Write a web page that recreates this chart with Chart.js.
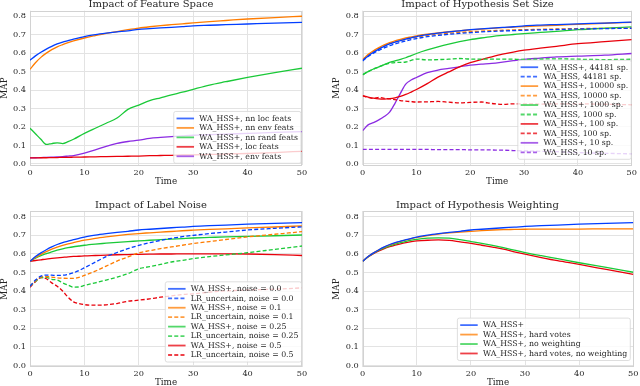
<!DOCTYPE html>
<html><head><meta charset="utf-8">
<script src="https://cdn.jsdelivr.net/npm/chart.js@4.4.0/dist/chart.umd.min.js"></script>
<style>
html,body{margin:0;padding:0;background:#fff;width:640px;height:386px;overflow:hidden}
canvas{position:absolute}
</style></head><body>
<canvas id="c1" width="320" height="193" style="left:0;top:0"></canvas>
<canvas id="c2" width="320" height="193" style="left:320px;top:0"></canvas>
<canvas id="c3" width="320" height="193" style="left:0;top:193px"></canvas>
<canvas id="c4" width="320" height="193" style="left:320px;top:193px"></canvas>
<script>
// ---------- tick labels ----------
const xTicks = [0, 10, 20, 30, 40, 50];
const yTicks = [0.0, 0.1, 0.2, 0.3, 0.4, 0.5, 0.6, 0.7, 0.8];

// ---------- Panel 1: Impact of Feature Space ----------
const time1 = [0,1,2,3,4,5,6,7,8,10,12,14,16,18,20,22,24,26,28,30,33,36,40,45,50];
const fs_nnLoc  = [0.562,0.585,0.605,0.622,0.637,0.650,0.660,0.668,0.676,0.690,0.700,0.708,0.715,0.721,0.729,0.733,0.737,0.740,0.744,0.748,0.751,0.754,0.758,0.763,0.767];
const fs_nnEnv  = [0.512,0.548,0.577,0.600,0.619,0.634,0.646,0.657,0.666,0.682,0.695,0.707,0.717,0.727,0.736,0.743,0.749,0.754,0.759,0.764,0.771,0.777,0.785,0.793,0.800];
const fs_nnRand = [0.193,0.163,0.133,0.105,0.110,0.114,0.110,0.120,0.133,0.165,0.193,0.220,0.248,0.295,0.318,0.342,0.358,0.374,0.388,0.404,0.427,0.445,0.468,0.494,0.518];
const fs_loc    = [0.032,0.032,0.033,0.033,0.034,0.034,0.035,0.035,0.036,0.037,0.038,0.039,0.040,0.041,0.042,0.044,0.045,0.046,0.048,0.049,0.051,0.053,0.056,0.061,0.068];
const fs_env    = [0.032,0.033,0.034,0.035,0.036,0.037,0.039,0.042,0.045,0.058,0.075,0.095,0.111,0.121,0.128,0.138,0.143,0.147,0.151,0.155,0.158,0.161,0.165,0.170,0.174];

// ---------- Panel 2: Impact of Hypothesis Set Size ----------
const time2 = [0,1,2,3,4,5,6,7,8,9,10,12,14,16,18,20,22,24,26,28,30,33,36,40,45,50];
const hs_plus44181 = [0.560,0.585,0.605,0.622,0.637,0.650,0.660,0.668,0.676,0.683,0.690,0.700,0.708,0.715,0.721,0.727,0.732,0.736,0.740,0.743,0.748,0.752,0.755,0.759,0.763,0.768];
const hs_44181     = [0.558,0.582,0.600,0.615,0.628,0.640,0.650,0.658,0.666,0.673,0.679,0.689,0.696,0.702,0.707,0.711,0.715,0.718,0.720,0.722,0.724,0.726,0.728,0.731,0.733,0.735];
const hs_plus10000 = [0.565,0.592,0.613,0.630,0.645,0.657,0.667,0.675,0.682,0.688,0.694,0.703,0.710,0.716,0.721,0.726,0.730,0.734,0.738,0.741,0.744,0.748,0.751,0.756,0.762,0.767];
const hs_10000     = [0.565,0.590,0.610,0.626,0.640,0.652,0.661,0.669,0.676,0.682,0.687,0.696,0.703,0.708,0.712,0.716,0.719,0.722,0.724,0.726,0.727,0.729,0.731,0.733,0.734,0.735];
const hs_plus1000  = [0.483,0.500,0.514,0.525,0.538,0.550,0.558,0.566,0.575,0.587,0.598,0.617,0.634,0.649,0.662,0.673,0.682,0.690,0.696,0.701,0.706,0.712,0.718,0.727,0.735,0.742];
const hs_1000      = [0.483,0.500,0.513,0.525,0.537,0.545,0.549,0.550,0.552,0.561,0.568,0.563,0.565,0.567,0.571,0.568,0.567,0.567,0.568,0.567,0.566,0.568,0.569,0.567,0.565,0.567];
const hs_plus100   = [0.369,0.362,0.356,0.352,0.351,0.353,0.358,0.366,0.376,0.389,0.403,0.435,0.470,0.498,0.525,0.548,0.565,0.580,0.594,0.606,0.616,0.627,0.637,0.651,0.662,0.673];
const hs_100       = [0.369,0.360,0.354,0.360,0.355,0.352,0.348,0.343,0.340,0.337,0.335,0.336,0.338,0.334,0.330,0.333,0.335,0.327,0.322,0.325,0.325,0.324,0.325,0.325,0.323,0.320];
const hs_plus10    = [0.180,0.211,0.223,0.238,0.256,0.280,0.328,0.382,0.432,0.454,0.468,0.494,0.508,0.517,0.526,0.535,0.540,0.544,0.551,0.559,0.566,0.573,0.580,0.584,0.589,0.598];
const hs_10        = [0.078,0.078,0.078,0.078,0.078,0.078,0.078,0.078,0.078,0.078,0.078,0.078,0.077,0.077,0.077,0.076,0.076,0.075,0.074,0.072,0.070,0.068,0.066,0.061,0.057,0.054];

// ---------- Panel 3: Impact of Label Noise ----------
const time3 = [0,1,2,3,4,5,6,7,8,9,10,12,14,16,18,20,22,24,26,28,30,33,36,40,45,50];
const ln_wa00  = [0.560,0.585,0.605,0.622,0.637,0.650,0.660,0.668,0.676,0.683,0.690,0.700,0.708,0.715,0.721,0.728,0.732,0.736,0.740,0.743,0.747,0.751,0.754,0.759,0.764,0.768];
const ln_lr00  = [0.426,0.459,0.480,0.486,0.485,0.484,0.485,0.490,0.498,0.510,0.525,0.555,0.585,0.607,0.628,0.645,0.660,0.672,0.683,0.692,0.699,0.709,0.717,0.728,0.737,0.745];
const ln_wa01  = [0.560,0.580,0.597,0.612,0.625,0.636,0.645,0.653,0.660,0.667,0.673,0.683,0.691,0.698,0.704,0.709,0.713,0.717,0.720,0.724,0.727,0.731,0.734,0.739,0.744,0.750];
const ln_lr01  = [0.426,0.455,0.475,0.478,0.475,0.471,0.469,0.468,0.468,0.474,0.484,0.507,0.534,0.561,0.583,0.605,0.617,0.628,0.637,0.646,0.655,0.666,0.677,0.691,0.705,0.719];
const ln_wa025 = [0.560,0.576,0.590,0.601,0.611,0.620,0.627,0.633,0.638,0.642,0.646,0.652,0.657,0.662,0.666,0.669,0.673,0.676,0.679,0.682,0.685,0.688,0.691,0.694,0.697,0.701];
const ln_lr025 = [0.426,0.452,0.472,0.473,0.463,0.459,0.444,0.432,0.421,0.422,0.430,0.444,0.459,0.475,0.493,0.520,0.531,0.543,0.556,0.565,0.574,0.585,0.594,0.606,0.624,0.642];
const ln_wa05  = [0.560,0.564,0.568,0.572,0.575,0.578,0.581,0.584,0.586,0.587,0.589,0.591,0.593,0.595,0.596,0.597,0.598,0.599,0.599,0.600,0.600,0.600,0.600,0.599,0.596,0.591];
const ln_lr05  = [0.420,0.450,0.472,0.466,0.444,0.426,0.400,0.367,0.342,0.333,0.327,0.324,0.326,0.333,0.345,0.351,0.358,0.367,0.374,0.381,0.385,0.394,0.401,0.406,0.410,0.417];

// ---------- Panel 4: Impact of Hypothesis Weighting ----------
const time4 = [0,1,2,3,4,5,6,7,8,9,10,12,14,16,18,20,22,24,26,28,30,33,36,40,45,50];
const hw_plus    = [0.560,0.585,0.605,0.622,0.637,0.650,0.660,0.668,0.676,0.683,0.690,0.700,0.708,0.715,0.721,0.728,0.732,0.736,0.740,0.743,0.747,0.751,0.754,0.759,0.764,0.768];
const hw_hard    = [0.560,0.585,0.605,0.622,0.636,0.648,0.658,0.667,0.675,0.682,0.688,0.698,0.706,0.712,0.717,0.721,0.725,0.728,0.730,0.731,0.732,0.733,0.733,0.733,0.734,0.734];
const hw_noW     = [0.560,0.584,0.603,0.619,0.632,0.643,0.652,0.660,0.667,0.673,0.678,0.684,0.686,0.684,0.676,0.666,0.656,0.645,0.633,0.620,0.607,0.590,0.574,0.552,0.527,0.501];
const hw_hardNoW = [0.560,0.583,0.601,0.616,0.628,0.638,0.647,0.654,0.660,0.665,0.669,0.673,0.675,0.672,0.664,0.656,0.646,0.636,0.625,0.611,0.598,0.580,0.563,0.543,0.516,0.489];

// ---------- styling ----------
const BLUE = '#023eff', ORANGE = '#ff7c00', GREEN = '#1ac938', RED = '#e8000b', PURPLE = '#8b2be2';
const FONT = '"DejaVu Serif", "Liberation Serif", serif';
const TXT = '#262626';
const DASH = [4, 2.2];

const legendInside = {
  id: 'legendInside',
  afterDraw(chart, args, o) {
    const ctx = chart.ctx, ca = chart.chartArea, ds = chart.data.datasets;
    ctx.save();
    ctx.font = o.fontSize + 'px ' + FONT;
    let maxW = 0;
    ds.forEach(d => { maxW = Math.max(maxW, ctx.measureText(d.label).width); });
    const w = o.padL + o.handleLen + o.gap + maxW + o.padR;
    const h = ds.length * o.rowH + 2 * o.padV;
    const x = ca.right - o.right - w, y = ca.bottom - o.bottom - h;
    const r = 2;
    ctx.beginPath();
    ctx.moveTo(x + r, y); ctx.lineTo(x + w - r, y); ctx.quadraticCurveTo(x + w, y, x + w, y + r);
    ctx.lineTo(x + w, y + h - r); ctx.quadraticCurveTo(x + w, y + h, x + w - r, y + h);
    ctx.lineTo(x + r, y + h); ctx.quadraticCurveTo(x, y + h, x, y + h - r);
    ctx.lineTo(x, y + r); ctx.quadraticCurveTo(x, y, x + r, y); ctx.closePath();
    ctx.fillStyle = 'rgba(255,255,255,0.8)'; ctx.fill();
    ctx.strokeStyle = '#d5d5d5'; ctx.lineWidth = 0.8; ctx.stroke();
    ds.forEach((d, i) => {
      const cy = y + o.padV + o.rowH * (i + 0.5);
      ctx.save();
      ctx.globalAlpha = 0.75;
      ctx.strokeStyle = d.borderColor; ctx.lineWidth = 1.8;
      ctx.setLineDash(d.borderDash || []);
      ctx.beginPath(); ctx.moveTo(x + o.padL, cy); ctx.lineTo(x + o.padL + o.handleLen, cy); ctx.stroke();
      ctx.restore();
      ctx.fillStyle = TXT; ctx.textBaseline = 'middle'; ctx.textAlign = 'left';
      ctx.fillText(d.label, x + o.padL + o.handleLen + o.gap, cy + 0.3);
    });
    ctx.restore();
  }
};

const frame = {
  id: 'frame',
  beforeDatasetsDraw(chart) {
    const ctx = chart.ctx, ca = chart.chartArea;
    ctx.save();
    ctx.strokeStyle = '#d2d2d2'; ctx.lineWidth = 1;
    ctx.strokeRect(Math.round(ca.left) + 0.5, Math.round(ca.top) + 0.5, Math.round(ca.right - ca.left) - 1, Math.round(ca.bottom - ca.top) - 1);
    ctx.restore();
  }
};

function pts(times, arr) { return times.map((t, i) => ({ x: t, y: arr[i] })); }
function line(label, times, arr, color, dashed) {
  return {
    label, data: pts(times, arr), borderColor: color, backgroundColor: color,
    borderWidth: 1.3, borderDash: dashed ? DASH : [], pointRadius: 0,
    cubicInterpolationMode: 'monotone', fill: false
  };
}

function makePanel(id, title, datasets, L) {
  new Chart(document.getElementById(id), {
    type: 'line',
    data: { datasets },
    plugins: [frame, legendInside],
    options: {
      responsive: false, animation: false, events: [],
      layout: { padding: { left: 0, right: L.padRight, top: 0, bottom: 0 } },
      plugins: {
        legend: { display: false }, tooltip: { enabled: false },
        title: { display: true, text: title, color: TXT,
          font: { family: FONT, size: 10, weight: 'normal', lineHeight: 0.9 },
          padding: { top: L.titleTop, bottom: L.titleBottom } },
        legendInside: Object.assign({ fontSize: 7.8, rowH: 9.45, padV: 2.3, padL: 2.8, handleLen: 17.5, gap: 5.3, padR: 3 }, L.legend)
      },
      scales: {
        x: {
          type: 'linear', min: 0, max: 50,
          afterBuildTicks: s => { s.ticks = xTicks.map(v => ({ value: v })); },
          afterFit: s => { s.height = L.xHeight; },
          ticks: { color: TXT, font: { family: FONT, size: 8.2 }, padding: L.xTickPad, maxRotation: 0, autoSkip: false,
            callback: v => String(v) },
          grid: { color: '#e3e3e3', lineWidth: 1, drawTicks: false },
          border: { display: false },
          title: { display: true, text: 'Time', color: TXT,
            font: { family: FONT, size: 8.8, lineHeight: L.xTitleLH }, padding: { top: 0, bottom: L.xTitlePad } }
        },
        y: {
          type: 'linear', min: -0.008, max: 0.83,
          afterBuildTicks: s => { s.ticks = yTicks.map(v => ({ value: v })); },
          afterFit: s => { s.width = L.yWidth; },
          ticks: { color: TXT, font: { family: FONT, size: 8.2 }, padding: 4, autoSkip: false,
            callback: v => Number(v).toFixed(1) },
          grid: { color: '#e3e3e3', lineWidth: 1, drawTicks: false },
          border: { display: false },
          title: { display: true, text: 'MAP', color: TXT,
            font: { family: FONT, size: 8.8, lineHeight: 1 }, padding: { top: L.yTitlePad, bottom: 0 } }
        }
      }
    }
  });
}

const topL = { titleTop: 0, titleBottom: 1.7, xHeight: 27.7, xTickPad: 3.1, xTitleLH: 1, xTitlePad: 6.9 };
const botL = { titleTop: 7.8, titleBottom: 1.2, xHeight: 19, xTickPad: 1.5, xTitleLH: 0.75, xTitlePad: 0 };

makePanel('c1', 'Impact of Feature Space', [
  line('WA_HSS+, nn loc feats', time1, fs_nnLoc, BLUE, false),
  line('WA_HSS+, nn env feats', time1, fs_nnEnv, ORANGE, false),
  line('WA_HSS+, nn rand feats', time1, fs_nnRand, GREEN, false),
  line('WA_HSS+, loc feats', time1, fs_loc, RED, false),
  line('WA_HSS+, env feats', time1, fs_env, PURPLE, false)
], Object.assign({}, topL, { padRight: 18, yWidth: 30, yTitlePad: 0, legend: { right: 1, bottom: 2 } }));

makePanel('c2', 'Impact of Hypothesis Set Size', [
  line('WA_HSS+, 44181 sp.', time2, hs_plus44181, BLUE, false),
  line('WA_HSS, 44181 sp.', time2, hs_44181, BLUE, true),
  line('WA_HSS+, 10000 sp.', time2, hs_plus10000, ORANGE, false),
  line('WA_HSS, 10000 sp.', time2, hs_10000, ORANGE, true),
  line('WA_HSS+, 1000 sp.', time2, hs_plus1000, GREEN, false),
  line('WA_HSS, 1000 sp.', time2, hs_1000, GREEN, true),
  line('WA_HSS+, 100 sp.', time2, hs_plus100, RED, false),
  line('WA_HSS, 100 sp.', time2, hs_100, RED, true),
  line('WA_HSS+, 10 sp.', time2, hs_plus10, PURPLE, false),
  line('WA_HSS, 10 sp.', time2, hs_10, PURPLE, true)
], Object.assign({}, topL, { padRight: 5, yWidth: 42.7, yTitlePad: 12.3, legend: { right: 0.5, bottom: 6 } }));

makePanel('c3', 'Impact of Label Noise', [
  line('WA_HSS+, noise = 0.0', time3, ln_wa00, BLUE, false),
  line('LR_uncertain, noise = 0.0', time3, ln_lr00, BLUE, true),
  line('WA_HSS+, noise = 0.1', time3, ln_wa01, ORANGE, false),
  line('LR_uncertain, noise = 0.1', time3, ln_lr01, ORANGE, true),
  line('WA_HSS+, noise = 0.25', time3, ln_wa025, GREEN, false),
  line('LR_uncertain, noise = 0.25', time3, ln_lr025, GREEN, true),
  line('WA_HSS+, noise = 0.5', time3, ln_wa05, RED, false),
  line('LR_uncertain, noise = 0.5', time3, ln_lr05, RED, true)
], Object.assign({}, botL, { padRight: 18, yWidth: 30, yTitlePad: 0, legend: { right: 0.5, bottom: 5 } }));

makePanel('c4', 'Impact of Hypothesis Weighting', [
  line('WA_HSS+', time4, hw_plus, BLUE, false),
  line('WA_HSS+, hard votes', time4, hw_hard, ORANGE, false),
  line('WA_HSS+, no weighting', time4, hw_noW, GREEN, false),
  line('WA_HSS+, hard votes, no weighting', time4, hw_hardNoW, RED, false)
], Object.assign({}, botL, { padRight: 5, yWidth: 42.7, yTitlePad: 12.3, legend: { right: 3, bottom: 6.5 } }));
</script>
</body></html>
